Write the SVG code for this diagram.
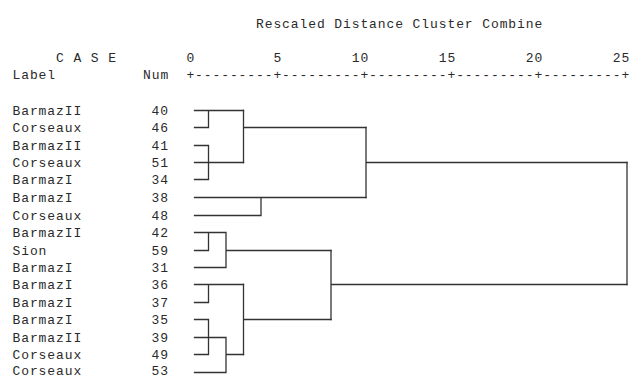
<svg xmlns="http://www.w3.org/2000/svg" width="632" height="378" viewBox="0 0 632 378">
  <style>
    text { font-family: "Liberation Mono", "Courier New", monospace; font-size: 13px; letter-spacing: 0.9px; fill: #2a2a2a; }
    .num { text-anchor: end; }
    .link { fill: none; stroke: #333; stroke-width: 1.3; stroke-linecap: square; }
  </style>
  <rect width="632" height="378" fill="#fff"/>

  <!-- header and scale -->
  <g id="header">
    <text x="256" y="27.5">Rescaled Distance Cluster Combine</text>
    <text x="56" y="61.5">C A S E</text>
    <text x="12.5" y="79">Label</text>
    <text x="143" y="79">Num</text>
    <text class="num" x="195.2" y="61.5">0</text>
    <text class="num" x="282.2" y="61.5">5</text>
    <text class="num" x="369.2" y="61.5">10</text>
    <text class="num" x="456.2" y="61.5">15</text>
    <text class="num" x="543.2" y="61.5">20</text>
    <text class="num" x="630.2" y="61.5">25</text>
    <text x="186.4" y="79">+---------+---------+---------+---------+---------+</text>
  </g>

  <!-- cases: label and number -->
  <g id="case-40"><text x="12.5" y="114.5">BarmazII</text><text class="num" x="169" y="114.5">40</text></g>
  <g id="case-46"><text x="12.5" y="131.5">Corseaux</text><text class="num" x="169" y="131.5">46</text></g>
  <g id="case-41"><text x="12.5" y="149.5">BarmazII</text><text class="num" x="169" y="149.5">41</text></g>
  <g id="case-51"><text x="12.5" y="166.5">Corseaux</text><text class="num" x="169" y="166.5">51</text></g>
  <g id="case-34"><text x="12.5" y="183.5">BarmazI</text><text class="num" x="169" y="183.5">34</text></g>
  <g id="case-38"><text x="12.5" y="201.5">BarmazI</text><text class="num" x="169" y="201.5">38</text></g>
  <g id="case-48"><text x="12.5" y="219.5">Corseaux</text><text class="num" x="169" y="219.5">48</text></g>
  <g id="case-42"><text x="12.5" y="236.5">BarmazII</text><text class="num" x="169" y="236.5">42</text></g>
  <g id="case-59"><text x="12.5" y="254.5">Sion</text><text class="num" x="169" y="254.5">59</text></g>
  <g id="case-31"><text x="12.5" y="271.5">BarmazI</text><text class="num" x="169" y="271.5">31</text></g>
  <g id="case-36"><text x="12.5" y="288.5">BarmazI</text><text class="num" x="169" y="288.5">36</text></g>
  <g id="case-37"><text x="12.5" y="306.5">BarmazI</text><text class="num" x="169" y="306.5">37</text></g>
  <g id="case-35"><text x="12.5" y="323.5">BarmazI</text><text class="num" x="169" y="323.5">35</text></g>
  <g id="case-39"><text x="12.5" y="341.5">BarmazII</text><text class="num" x="169" y="341.5">39</text></g>
  <g id="case-49"><text x="12.5" y="358.5">Corseaux</text><text class="num" x="169" y="358.5">49</text></g>
  <g id="case-53"><text x="12.5" y="374.5">Corseaux</text><text class="num" x="169" y="374.5">53</text></g>

  <!-- dendrogram links -->
  <g id="links" class="link">
    <!-- 40,46 + 41,51,34 -->
    <path class="link" d="M194.5 110.5H243.5 M208.5 110.5V127.5 M194.5 127.5H208.5"/>
    <path class="link" d="M194.5 145.5H208.5 M208.5 145.5V179.5 M194.5 162.5H243.5 M194.5 179.5H208.5"/>
    <path class="link" d="M243.5 110.5V162.5 M243.5 127.5H366"/>
    <!-- 38,48 -->
    <path class="link" d="M194.5 197.5H366 M261 197.5V215.5 M194.5 215.5H261"/>
    <path class="link" d="M366 127.5V197.5 M366 162.5H627"/>
    <!-- 42,59,31 -->
    <path class="link" d="M194.5 232.5H226 M208.5 232.5V250.5 M194.5 250.5H208.5 M226 232.5V267.5 M194.5 267.5H226 M226 250.5H331"/>
    <!-- 36,37 + 35,39,49,53 -->
    <path class="link" d="M194.5 284.5H243.5 M208.5 284.5V302.5 M194.5 302.5H208.5"/>
    <path class="link" d="M194.5 319.5H208.5 M208.5 319.5V354.5 M194.5 337.5H226 M194.5 354.5H208.5 M226 337.5V372.5 M194.5 372.5H226 M226 354.5H243.5"/>
    <path class="link" d="M243.5 284.5V354.5 M243.5 319.5H331"/>
    <path class="link" d="M331 250.5V319.5 M331 284.5H627"/>
    <!-- root -->
    <path class="link" d="M627 162.5V284.5"/>
  </g>
</svg>
